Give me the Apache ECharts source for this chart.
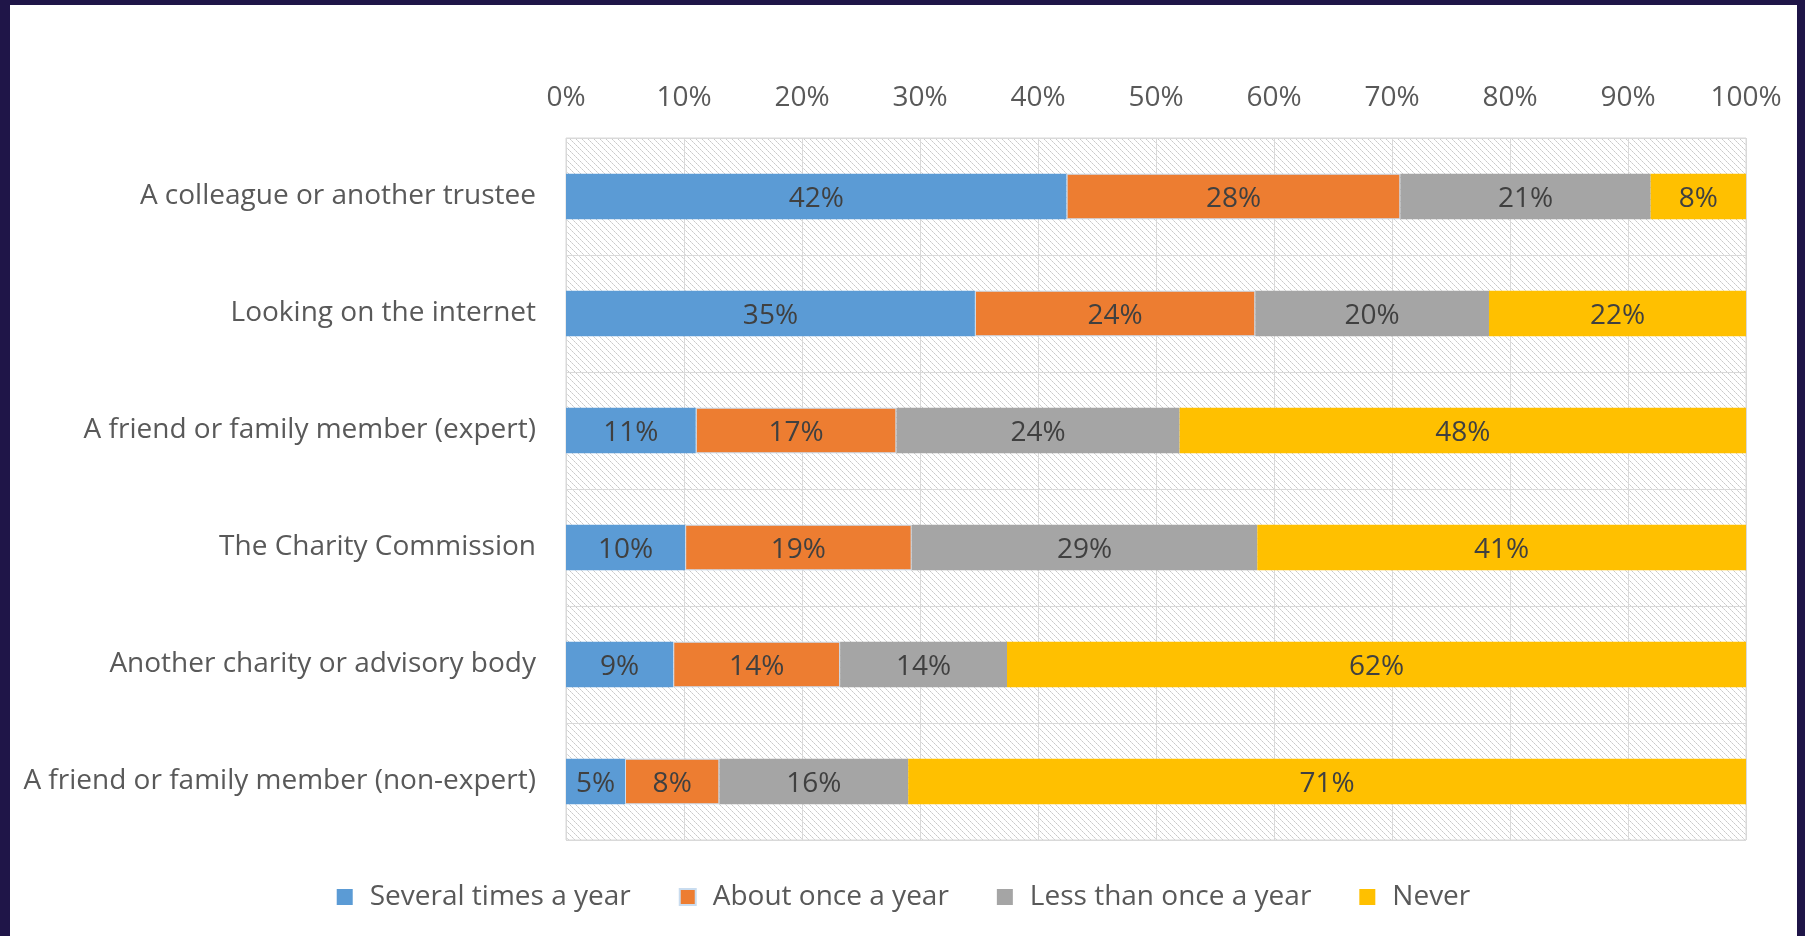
<!DOCTYPE html>
<html>
<head>
<meta charset="utf-8">
<script src="https://cdn.jsdelivr.net/npm/echarts@6/dist/echarts.min.js"></script>
<style>
  html, body { margin: 0; padding: 0; background: #1f1548; width: 1805px; height: 936px; overflow: hidden; }
  #chart { position: absolute; left: 10px; top: 5px; width: 1787px; height: 931px; background: #fff; }
</style>
</head>
<body>
<div id="chart"></div>
<script>
// survey rows, top to bottom
const categories = [
  'A colleague or another trustee',
  'Looking on the internet',
  'A friend or family member (expert)',
  'The Charity Commission',
  'Another charity or advisory body',
  'A friend or family member (non-expert)',
];
const seriesNames = ['Several times a year', 'About once a year', 'Less than once a year', 'Never'];
const severalTimes = [42, 35, 11, 10, 9, 5];
const onceAYear = [28, 24, 17, 19, 14, 8];
const lessThanOnce = [21, 20, 24, 29, 14, 16];
const never = [8, 22, 48, 41, 62, 71];
const xTicks = [0, 10, 20, 30, 40, 50, 60, 70, 80, 90, 100];

const colors = ['#5b9bd5', '#ed7d31', '#a5a5a5', '#ffc000'];
const raw = [severalTimes, onceAYear, lessThanOnce, never];
// 100% stacked: each row is scaled to its own total
const totals = categories.map((_, i) => raw.reduce((s, arr) => s + arr[i], 0));

function hatch() {
  const c = document.createElement('canvas');
  c.width = 6;
  c.height = 6;
  const ctx = c.getContext('2d');
  ctx.fillStyle = '#fff';
  ctx.fillRect(0, 0, 6, 6);
  for (let i = 0; i < 6; i++) {
    ctx.fillStyle = i % 2 === 0 ? '#c9c9c9' : '#dcdcdc';
    ctx.fillRect(i, i, 1, 1);
  }
  return c;
}

const font = '"Open Sans", sans-serif';
const chart = echarts.init(document.getElementById('chart'));

chart.setOption({
  animation: false,
  textStyle: { fontFamily: font },
  grid: {
    left: 556, right: 51, top: 133, bottom: 96,
    show: true,
    backgroundColor: { image: hatch(), repeat: 'repeat' },
    borderColor: '#d9d9d9',
    borderWidth: 1,
  },
  legend: {
    top: 873,
    left: 'center',
    itemWidth: 16,
    itemHeight: 16,
    itemGap: 48,
    icon: 'rect',
    textStyle: { fontSize: 28, color: '#595959', fontFamily: font, padding: [0, 0, 0, 12] },
    data: seriesNames,
  },
  xAxis: {
    type: 'value',
    position: 'top',
    min: xTicks[0],
    max: xTicks[xTicks.length - 1],
    interval: 10,
    axisLine: { show: false },
    axisTick: { show: false },
    axisLabel: { fontSize: 28, color: '#595959', margin: 26, formatter: '{value}%' },
    splitLine: { show: true, lineStyle: { color: '#d9d9d9', width: 1 } },
  },
  yAxis: {
    type: 'category',
    inverse: true,
    data: categories,
    axisLine: { show: false },
    axisTick: { show: false },
    axisLabel: { fontSize: 28, color: '#595959', margin: 30, padding: [6, 0, 0, 0] },
    splitLine: { show: true, lineStyle: { color: '#d9d9d9', width: 1 } },
  },
  series: seriesNames.map((name, s) => ({
    name,
    type: 'bar',
    stack: 'total',
    barWidth: '39%',
    itemStyle: {
      color: colors[s],
      borderColor: s === 1 ? '#c9dcef' : colors[s],
      borderWidth: s === 1 ? 1 : 0,
    },
    label: {
      show: true,
      position: 'inside',
      offset: [0, 3],
      fontSize: 28,
      color: '#404040',
      fontFamily: font,
      formatter: (p) => raw[s][p.dataIndex] + '%',
    },
    data: raw[s].map((v, i) => (v / totals[i]) * 100),
  })),
});
</script>
</body>
</html>
